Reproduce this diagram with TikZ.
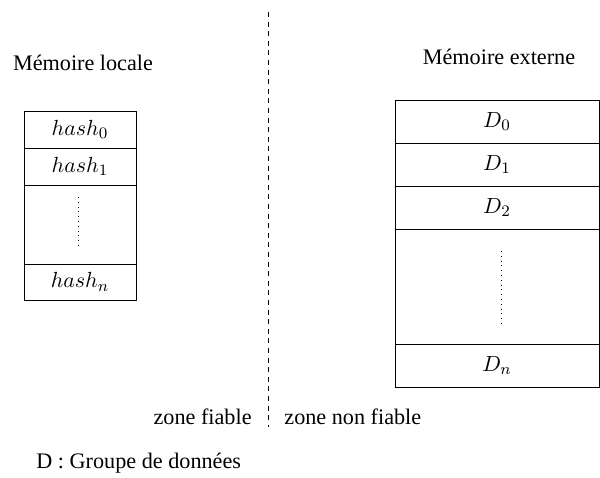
\documentclass[tikz,border=0pt]{standalone}
\usepackage{fontspec}
\setmainfont{Liberation Serif}
\usetikzlibrary{positioning}

\tikzset{
  cellbox/.style={draw, inner sep=0pt, outer sep=0pt, anchor=north},
  memlabel/.style={inner sep=0pt}
}

\begin{document}
\begin{tikzpicture}[x=0.5pt, y=-0.5pt, font=\fontsize{11.1}{13.3}\selectfont]
  \useasboundingbox (0,0) rectangle (600,477);
  % Frontier between the two zones
  \coordinate (zt) at (268,12);
  \coordinate (zb) at (268,427);
  \draw[dash pattern=on 2.5pt off 2.3pt] (zt) -- (zb);
  % Local memory: hash table
  \node[memlabel] (loc) at (83,63) {Mémoire locale};
  \node[cellbox, minimum width=56pt, minimum height=18.5pt] (h0) at (80,111) {$hash_0$};
  \node[cellbox, minimum width=56pt, minimum height=18.5pt, below=0pt of h0] (h1) {$hash_1$};
  \node[cellbox, minimum width=56pt, minimum height=39.5pt, below=0pt of h1] (lgap) {};
  \node[cellbox, minimum width=56pt, minimum height=18pt, below=0pt of lgap] (hn) {$hash_n$};
  \draw[dotted] ([xshift=-1pt, yshift=-6pt]lgap.north) -- ([xshift=-1pt, yshift=8pt]lgap.south);
  % External memory: data blocks
  \node[memlabel] (ext) at (499,57) {Mémoire externe};
  \node[cellbox, minimum width=102pt, minimum height=21.5pt] (d0) at (497,100) {$D_0$};
  \node[cellbox, minimum width=102pt, minimum height=21.5pt, below=0pt of d0] (d1) {$D_1$};
  \node[cellbox, minimum width=102pt, minimum height=21.5pt, below=0pt of d1] (d2) {$D_2$};
  \node[cellbox, minimum width=102pt, minimum height=57.5pt, below=0pt of d2] (rgap) {};
  \node[cellbox, minimum width=102pt, minimum height=21.5pt, below=0pt of rgap] (dn) {$D_n$};
  \draw[dotted] ([xshift=2pt, yshift=-11pt]rgap.north) -- ([xshift=2pt, yshift=10pt]rgap.south);
  % Zone names and legend
  \node[memlabel, anchor=east] (fiable) at (252,417) {zone fiable};
  \node[memlabel, anchor=west] (nonfiable) at (284,417) {zone non fiable};
  \node[memlabel, anchor=west] (legend) at (36,463) {D : Groupe de données};
\end{tikzpicture}
\end{document}
